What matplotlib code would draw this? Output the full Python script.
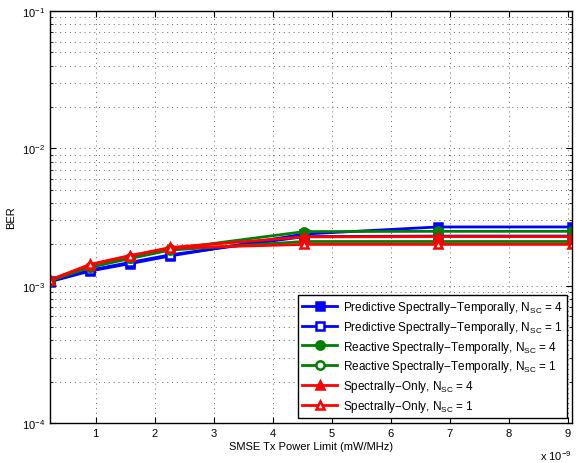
import matplotlib
matplotlib.use('Agg')
import matplotlib.pyplot as plt
from matplotlib.ticker import LogLocator, NullFormatter

plt.rcParams['font.family'] = ['Liberation Sans', 'DejaVu Sans']
plt.rcParams['mathtext.fontset'] = 'custom'
plt.rcParams['mathtext.rm'] = 'Liberation Sans'
plt.rcParams['mathtext.it'] = 'Liberation Sans:italic'

# potencia (x 1e-9 mW/MHz)
potencia = [0.2267, 0.9067, 1.5867, 2.2667, 4.5333, 6.8, 9.0667]

# BER por esquema
pred_4 = [1.07e-3, 1.28e-3, 1.45e-3, 1.65e-3, 2.38e-3, 2.68e-3, 2.68e-3]
pred_1 = [1.08e-3, 1.30e-3, 1.48e-3, 1.68e-3, 2.28e-3, 2.30e-3, 2.30e-3]
reac_4 = [1.09e-3, 1.38e-3, 1.60e-3, 1.85e-3, 2.48e-3, 2.49e-3, 2.49e-3]
reac_1 = [1.09e-3, 1.36e-3, 1.58e-3, 1.82e-3, 2.10e-3, 2.10e-3, 2.10e-3]
espec_4 = [1.10e-3, 1.42e-3, 1.65e-3, 1.90e-3, 2.27e-3, 2.28e-3, 2.28e-3]
espec_1 = [1.10e-3, 1.43e-3, 1.66e-3, 1.88e-3, 2.00e-3, 2.00e-3, 2.00e-3]

etiquetas = [
    'Predictive Spectrally\u2212Temporally, N$_{\\mathrm{SC}}$ = 4',
    'Predictive Spectrally\u2212Temporally, N$_{\\mathrm{SC}}$ = 1',
    'Reactive Spectrally\u2212Temporally, N$_{\\mathrm{SC}}$ = 4',
    'Reactive Spectrally\u2212Temporally, N$_{\\mathrm{SC}}$ = 1',
    'Spectrally\u2212Only, N$_{\\mathrm{SC}}$ = 4',
    'Spectrally\u2212Only, N$_{\\mathrm{SC}}$ = 1',
]

azul, verde, rojo = (0, 0, 1), (0, 0.5, 0), (1, 0, 0)

fig = plt.figure(figsize=(5.81, 4.64), dpi=100)
ax = fig.add_axes([0.086, 0.086, 0.8985, 0.888])

series = [
    (pred_4, azul, 's', True),
    (pred_1, azul, 's', False),
    (reac_4, verde, 'o', True),
    (reac_1, verde, 'o', False),
    (espec_4, rojo, '^', True),
    (espec_1, rojo, '^', False),
]
for (datos, color, marca, lleno), etiqueta in zip(series, etiquetas):
    ax.plot(potencia, datos, color=color, lw=2, marker=marca, ms=6,
            mfc=color if lleno else 'white', mec=color, mew=1.8, label=etiqueta)

ax.set_yscale('log')
ax.set_ylim(1e-4, 1e-1)
ax.set_xlim(potencia[0], potencia[-1])
ax.set_xticks(range(1, 10))
ax.yaxis.set_minor_locator(LogLocator(base=10, subs=range(2, 10)))
ax.yaxis.set_minor_formatter(NullFormatter())

ax.grid(True, which='major', ls=(0, (1, 4)), color='0.4', lw=0.7)
ax.grid(True, which='minor', axis='y', ls=(0, (1, 4)), color='0.4', lw=0.7)

ax.tick_params(which='both', direction='in', top=True, right=True, labelsize=8)
ax.tick_params(which='major', length=4)
ax.tick_params(which='minor', length=2)
for s in ax.spines.values():
    s.set_linewidth(1)

ax.set_xlabel('SMSE Tx Power Limit (mW/MHz)', fontsize=8, labelpad=2)
ax.set_ylabel('BER', fontsize=8, labelpad=4)
ax.text(1.0, -0.062, 'x 10$^{-9}$', transform=ax.transAxes, ha='right',
        va='top', fontsize=8)

leg = ax.legend(loc='lower right', fontsize=8.5, fancybox=False, framealpha=1,
                edgecolor='black', handlelength=3.0, borderaxespad=0.4,
                labelspacing=0.33, borderpad=0.35, handletextpad=0.5)
leg.get_frame().set_linewidth(1)

fig.savefig('out.png', dpi=100)
